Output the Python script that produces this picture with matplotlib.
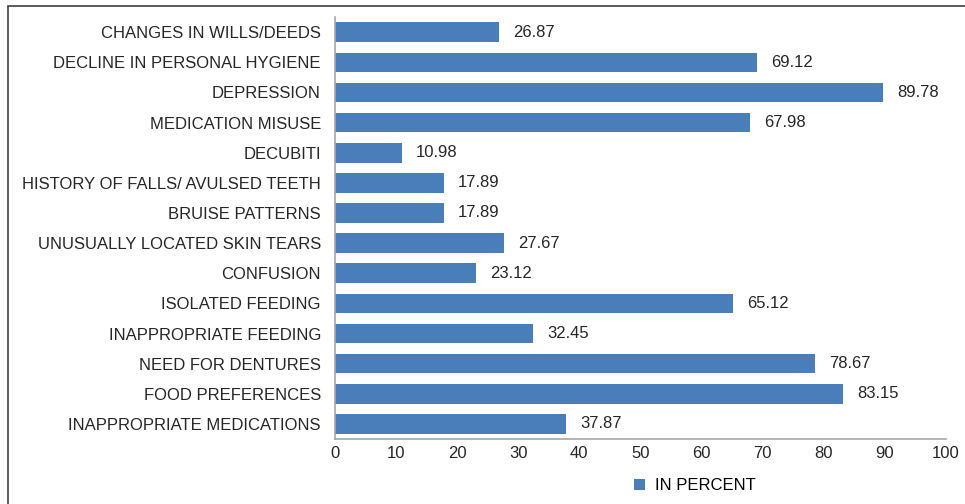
import matplotlib.pyplot as plt
from matplotlib.patches import Rectangle

plt.rcParams['font.family'] = ['Liberation Sans Narrow', 'Liberation Sans', 'DejaVu Sans']

categories = ['CHANGES IN WILLS/DEEDS', 'DECLINE IN PERSONAL HYGIENE', 'DEPRESSION',
              'MEDICATION MISUSE', 'DECUBITI', 'HISTORY OF FALLS/ AVULSED TEETH',
              'BRUISE PATTERNS', 'UNUSUALLY LOCATED SKIN TEARS', 'CONFUSION',
              'ISOLATED FEEDING', 'INAPPROPRIATE FEEDING', 'NEED FOR DENTURES',
              'FOOD PREFERENCES', 'INAPPROPRIATE MEDICATIONS']
values = [26.87, 69.12, 89.78, 67.98, 10.98, 17.89, 17.89, 27.67, 23.12,
          65.12, 32.45, 78.67, 83.15, 37.87]
xticks = [0, 10, 20, 30, 40, 50, 60, 70, 80, 90, 100]

fig = plt.figure(figsize=(9.65, 5.04), dpi=100)
ax = fig.add_axes([0.347, 0.129, 0.633, 0.837])

ypos = range(len(categories))
bars = ax.barh(ypos, values, height=0.65, color='#4a7ebb', label='IN PERCENT')
for y, v in zip(ypos, values):
    ax.text(v + 2.3, y, f'{v:.2f}', va='center', ha='left', fontsize=12, color='#262626')

ax.set_yticks(list(ypos))
ax.set_yticklabels(categories, fontsize=12, color='#262626')
ax.set_ylim(len(categories) - 0.5, -0.5)
ax.set_xlim(0, 100)
ax.set_xticks(xticks)
ax.set_xticklabels([str(t) for t in xticks], fontsize=12, color='#262626')
ax.tick_params(axis='x', length=0, pad=5)
ax.tick_params(axis='y', length=0, pad=10)
for s in ['top', 'right']:
    ax.spines[s].set_visible(False)
for s in ['left', 'bottom']:
    ax.spines[s].set_color('#a6a6a6')
    ax.spines[s].set_linewidth(1.2)

fig.legend(handles=[bars], labels=['IN PERCENT'], loc='center', bbox_to_anchor=(0.72, 0.036),
           frameon=False, fontsize=12, handlelength=0.7, handleheight=0.7, handletextpad=0.6)

# outer frame (left and top only visible)
fig.patches.append(Rectangle((8 / 965, -0.1), 1.2, 1.1 - 6 / 504, transform=fig.transFigure,
                             fill=False, edgecolor='#404040', linewidth=1.2))

fig.savefig('out.png', dpi=100)
